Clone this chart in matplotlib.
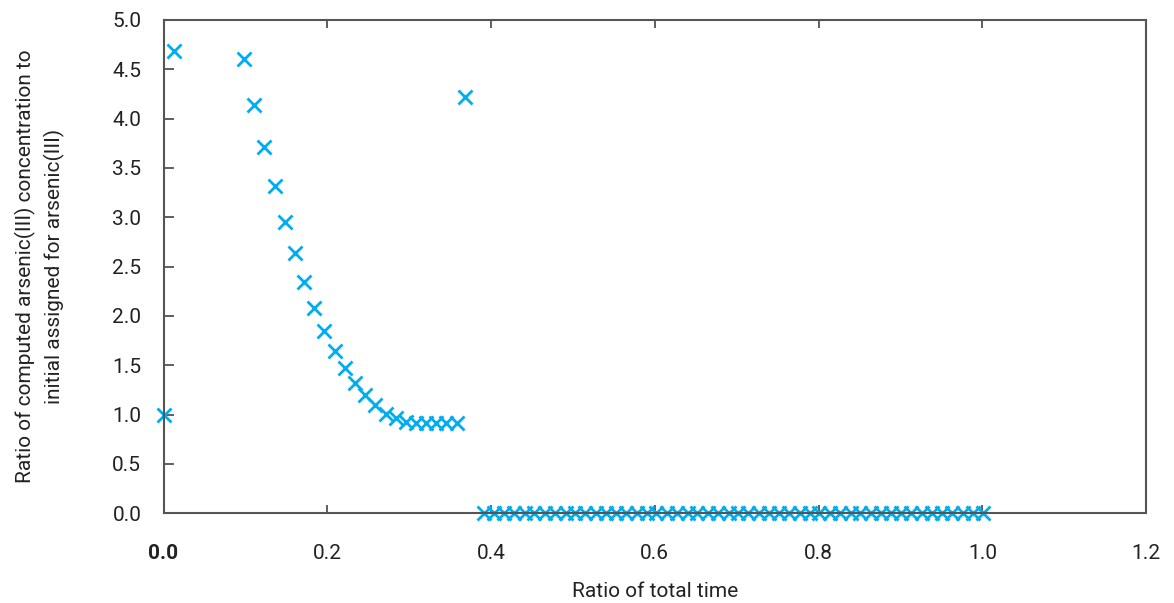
import numpy as np
import matplotlib
matplotlib.use('Agg')
import matplotlib.pyplot as plt
from matplotlib import font_manager

# pick a narrow font if available
names = set(f.name for f in font_manager.fontManager.ttflist)
fam = 'Liberation Sans Narrow' if 'Liberation Sans Narrow' in names else 'Roboto'
plt.rcParams['font.family'] = [fam, 'DejaVu Sans']

# data
time_ratio = [0.0, 0.013, 0.098, 0.110, 0.123, 0.136, 0.148, 0.160, 0.172, 0.184,
              0.196, 0.209, 0.222, 0.234, 0.246, 0.258, 0.272, 0.284, 0.296, 0.308,
              0.321, 0.333, 0.345, 0.358, 0.368]
as3_ratio = [1.00, 4.68, 4.60, 4.14, 3.71, 3.32, 2.95, 2.64, 2.34, 2.08,
             1.85, 1.64, 1.47, 1.32, 1.20, 1.10, 1.01, 0.96, 0.92, 0.91,
             0.91, 0.91, 0.91, 0.91, 4.22]
time_zero = [0.391, 0.403, 0.416, 0.428, 0.441, 0.453, 0.466, 0.478, 0.491, 0.503,
             0.515, 0.528, 0.540, 0.553, 0.565, 0.578, 0.590, 0.602, 0.615, 0.627,
             0.640, 0.652, 0.665, 0.677, 0.690, 0.702, 0.714, 0.727, 0.739, 0.752,
             0.764, 0.777, 0.789, 0.801, 0.814, 0.826, 0.839, 0.851, 0.864, 0.876,
             0.888, 0.901, 0.913, 0.926, 0.938, 0.951, 0.963, 0.976, 0.988, 1.001]
as3_zero = [0.0] * len(time_zero)

xticks = [0.0, 0.2, 0.4, 0.6, 0.8, 1.0, 1.2]
yticks = [0.0, 0.5, 1.0, 1.5, 2.0, 2.5, 3.0, 3.5, 4.0, 4.5, 5.0]

color = '#00aeef'

fig = plt.figure(figsize=(11.74, 6.03), dpi=100)
ax = fig.add_axes([0.1393, 0.149, 0.837, 0.818])

ax.plot(time_ratio, as3_ratio, 'x', color=color, ms=10, mew=2, clip_on=False)
ax.plot(time_zero, as3_zero, 'x', color=color, ms=10, mew=2, clip_on=False)

ax.set_xlim(0, 1.2)
ax.set_ylim(0, 5.0)
ax.set_xticks(xticks)
ax.set_xticklabels([f'{v:.1f}' for v in xticks])
ax.set_yticks(yticks)
ax.set_yticklabels([f'{v:.1f}' for v in yticks])
ax.get_xticklabels()[0].set_fontweight('bold')

ax.tick_params(axis='x', direction='in', length=6, width=1.2, colors='#444444',
               labelcolor='#222222', labelsize=15, pad=22, top=True)
ax.tick_params(axis='y', direction='in', length=7, width=1.2, colors='#444444',
               labelcolor='#222222', labelsize=15, pad=16)
for s in ax.spines.values():
    s.set_color('#555555')
    s.set_linewidth(1.5)

ax.set_xlabel('Ratio of total time', fontsize=15, color='#222222', labelpad=14)
ax.set_ylabel('Ratio of computed arsenic(III) concentration to\ninitial assigned for arsenic(III)',
              fontsize=15, color='#222222', labelpad=34, linespacing=1.45)

plt.savefig('out.png', dpi=100)
